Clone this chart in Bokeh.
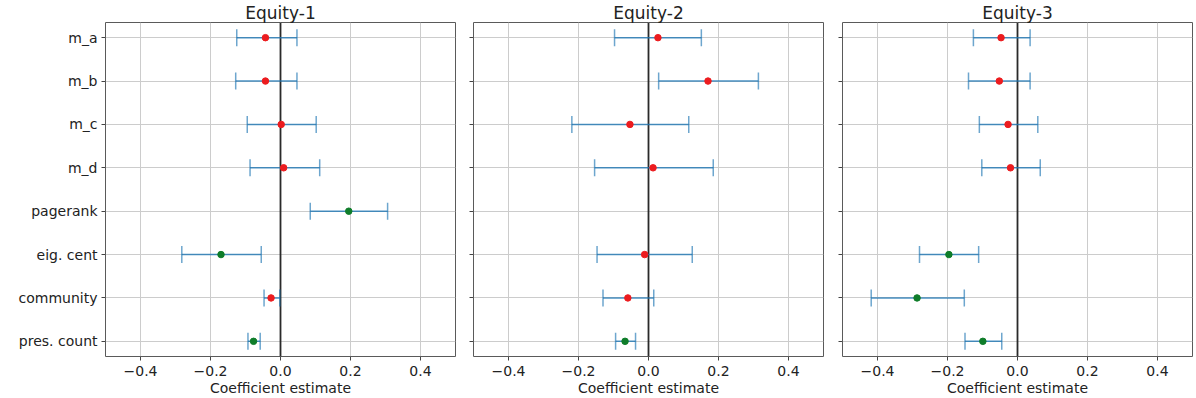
from bokeh.plotting import figure
from bokeh.layouts import row
from bokeh.models import (ColumnDataSource, Range1d, FixedTicker, CustomJSTickFormatter,
                          Whisker, TeeHead, Span, Title)
from bokeh.embed import file_html
from bokeh.resources import INLINE

categories = ["m_a", "m_b", "m_c", "m_d", "pagerank", "eig. cent", "community", "pres. count"]
x_ticks = [-0.4, -0.2, 0.0, 0.2, 0.4]
titles = ["Equity-1", "Equity-2", "Equity-3"]

eq1_coef = [-0.043, -0.043, 0.002, 0.009, 0.195, -0.170, -0.027, -0.077]
eq1_lo = [-0.125, -0.128, -0.095, -0.087, 0.085, -0.282, -0.047, -0.093]
eq1_hi = [0.047, 0.047, 0.102, 0.112, 0.306, -0.055, -0.002, -0.058]
eq1_sig = [False, False, False, False, True, True, False, True]

eq2_coef = [0.027, 0.170, -0.053, 0.013, None, -0.011, -0.059, -0.067]
eq2_lo = [-0.097, 0.029, -0.219, -0.154, None, -0.147, -0.130, -0.094]
eq2_hi = [0.151, 0.314, 0.115, 0.185, None, 0.125, 0.015, -0.037]
eq2_sig = [False, False, False, False, False, False, False, True]

eq3_coef = [-0.047, -0.052, -0.027, -0.020, None, -0.196, -0.287, -0.099]
eq3_lo = [-0.126, -0.140, -0.109, -0.102, None, -0.280, -0.418, -0.150]
eq3_hi = [0.036, 0.036, 0.058, 0.065, None, -0.111, -0.152, -0.045]
eq3_sig = [False, False, False, False, False, True, True, True]

panels = [(eq1_coef, eq1_lo, eq1_hi, eq1_sig),
          (eq2_coef, eq2_lo, eq2_hi, eq2_sig),
          (eq3_coef, eq3_lo, eq3_hi, eq3_sig)]

RED = "#ec1c1f"
GREEN = "#0f7d2a"
BLUE = "#1f77b4"
FONT = "DejaVu Sans"
TXT = "#222222"

FRAME_W = 350
FRAME_H = 334
borders = [(105, 9), (9, 10), (9, 4)]

figs = []
for i, (coef, lo, hi, sig) in enumerate(panels):
    ys, cs, los, his, cols = [], [], [], [], []
    for j, c in enumerate(coef):
        if c is None:
            continue
        ys.append(j)
        cs.append(c)
        los.append(lo[j])
        his.append(hi[j])
        cols.append(GREEN if sig[j] else RED)
    src = ColumnDataSource(dict(y=ys, coef=cs, lo=los, hi=his, color=cols))

    bl, br = borders[i]
    p = figure(frame_width=FRAME_W, frame_height=FRAME_H,
               x_range=Range1d(-0.5, 0.5),
               y_range=Range1d(len(categories) - 1 + 0.35, -0.35),
               output_backend="svg", toolbar_location=None,
               title=Title(text=titles[i], align="center", text_font=FONT,
                           text_font_size="17px", text_font_style="normal",
                           text_color=TXT, standoff=0, offset=0),
               min_border_left=bl, min_border_right=br,
               min_border_top=21, min_border_bottom=42,
               background_fill_color="white", border_fill_color="white")

    p.outline_line_color = "#5a5a5a"
    p.outline_line_width = 1

    # grid
    for g in (p.xgrid, p.ygrid):
        g.grid_line_color = "#cccccc"
        g.grid_line_width = 1

    # axes
    p.xaxis.ticker = FixedTicker(ticks=x_ticks)
    p.xaxis.formatter = CustomJSTickFormatter(code="return tick.toFixed(1).replace('-', '\u2212');")
    p.yaxis.ticker = FixedTicker(ticks=list(range(len(categories))))
    if i == 0:
        p.yaxis.formatter = CustomJSTickFormatter(args=dict(labels=categories),
                                                  code="return labels[Math.round(tick)];")
        p.yaxis.major_label_standoff = 4
    else:
        p.yaxis.formatter = CustomJSTickFormatter(code="return '';")
        p.yaxis.major_label_standoff = 0
    for ax in (p.xaxis[0], p.yaxis[0]):
        ax.axis_line_color = None
        ax.major_tick_line_color = "#444444"
        ax.major_tick_out = 4
        ax.major_tick_in = 0
        ax.minor_tick_line_color = None
        ax.major_label_text_font = FONT
        ax.major_label_text_font_size = "14px"
        ax.major_label_text_color = TXT
    p.xaxis.major_label_standoff = 5
    p.xaxis.axis_label = "Coefficient estimate"
    p.xaxis.axis_label_text_font = FONT
    p.xaxis.axis_label_text_font_size = "14px"
    p.xaxis.axis_label_text_font_style = "normal"
    p.xaxis.axis_label_text_color = TXT
    p.xaxis.axis_label_standoff = 1

    # zero line
    p.add_layout(Span(location=0, dimension="height", line_color="#2a2a2a",
                      line_width=1.8, level="underlay"))

    # error bars
    w = Whisker(source=src, base="y", lower="lo", upper="hi", dimension="width",
                line_color=BLUE, line_alpha=0.8, line_width=1.6,
                upper_head=TeeHead(size=17, line_color=BLUE, line_alpha=0.65, line_width=1.5),
                lower_head=TeeHead(size=17, line_color=BLUE, line_alpha=0.65, line_width=1.5))
    p.add_layout(w)

    # points
    p.scatter("coef", "y", source=src, size=6.5, fill_color="color", line_color="color")

    figs.append(p)

layout = row(*figs)
open("out.html", "w").write(file_html(layout, INLINE))
